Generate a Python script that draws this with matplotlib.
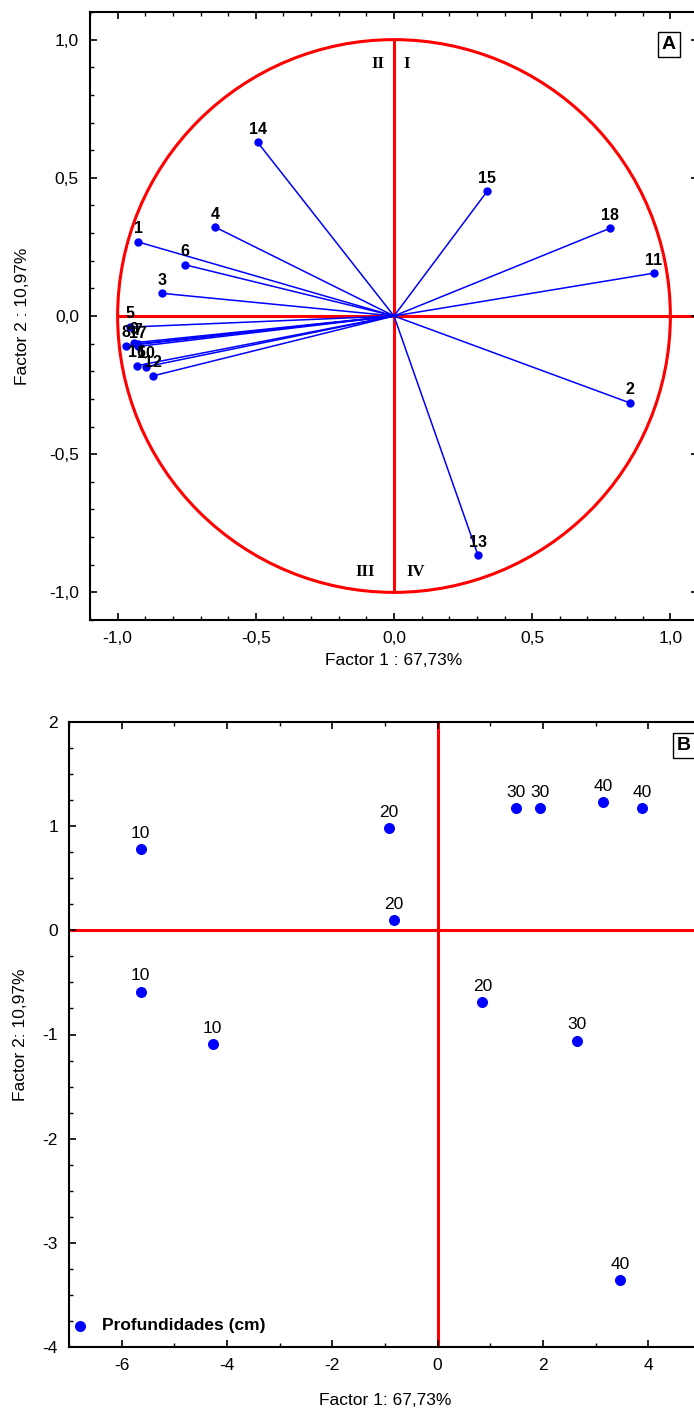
import matplotlib
matplotlib.use('Agg')
import matplotlib.pyplot as plt
from matplotlib.patches import Circle
from matplotlib.ticker import MultipleLocator, FuncFormatter

plt.rcParams['font.family'] = ['Liberation Sans', 'DejaVu Sans']
plt.rcParams['axes.unicode_minus'] = False

# panel A: loadings of the 18 variables
var_labels = ['1', '2', '3', '4', '5', '6', '7', '8', '9', '10',
              '11', '12', '13', '14', '15', '16', '17', '18']
load_f1 = [-0.926, 0.855, -0.839, -0.646, -0.955, -0.755, -0.928, -0.969, -0.942, -0.899,
           0.940, -0.873, 0.304, -0.493, 0.337, -0.931, -0.925, 0.783]
load_f2 = [0.268, -0.315, 0.082, 0.321, -0.040, 0.185, -0.101, -0.108, -0.097, -0.184,
           0.155, -0.217, -0.866, 0.628, 0.451, -0.180, -0.110, 0.318]

# panel B: sample scores, labelled by depth
depth_labels = ['10', '10', '10', '20', '20', '20', '30', '30', '30', '40', '40', '40']
score_f1 = [-5.64, -5.64, -4.27, -0.93, -0.83, 0.85, 1.49, 1.95, 2.64, 3.14, 3.88, 3.47]
score_f2 = [0.78, -0.59, -1.09, 0.98, 0.10, -0.69, 1.17, 1.17, -1.06, 1.23, 1.17, -3.36]

fig = plt.figure(figsize=(6.94, 14.14), dpi=100)

############## A. circle of correlations
ax = fig.add_axes([90/694, 1-620/1414, 608/694, 608/1414])
ax.set_xlim(-1.1, 1.1)
ax.set_ylim(-1.1, 1.1)
ax.add_patch(Circle((0, 0), 1, fill=False, color='red', lw=2.2, zorder=1))
ax.plot([-1, 1.1], [0, 0], color='red', lw=2.2, zorder=1)
ax.plot([0, 0], [-1, 1], color='red', lw=2.2, zorder=1)
for lab, x, y in zip(var_labels, load_f1, load_f2):
    ax.plot([0, x], [0, y], color='blue', lw=1.1, zorder=2)
    ax.plot(x, y, 'o', color='blue', ms=5, zorder=3)
    ax.annotate(lab, (x, y), xytext=(0, 4), textcoords='offset points',
                ha='center', va='bottom', fontsize=11.5, fontweight='bold', zorder=4)
for q, x, y in [('II', -0.058, 0.913), ('I', 0.047, 0.913),
                ('III', -0.105, -0.928), ('IV', 0.08, -0.928)]:
    ax.text(x, y, q, ha='center', va='center', fontsize=12, fontweight='bold',
            family=['Liberation Serif', 'DejaVu Serif'])
ax.text(0.952, 0.946, 'A', transform=ax.transAxes, ha='center', va='center',
        fontsize=14, fontweight='bold',
        bbox=dict(boxstyle='square,pad=0.2', fc='white', ec='black', lw=1))
ax.xaxis.set_major_locator(MultipleLocator(0.5))
ax.xaxis.set_minor_locator(MultipleLocator(0.1))
ax.yaxis.set_major_locator(MultipleLocator(0.5))
ax.yaxis.set_minor_locator(MultipleLocator(0.1))
comma = FuncFormatter(lambda v, p: ('%.1f' % v).replace('.', ','))
ax.xaxis.set_major_formatter(comma)
ax.yaxis.set_major_formatter(comma)
ax.tick_params(which='both', direction='in', top=True, right=True, labelsize=12.5, pad=8)
ax.tick_params(which='major', length=5, width=1.2)
ax.tick_params(which='minor', length=3, width=1)
for s in ax.spines.values():
    s.set_linewidth(1.5)
ax.set_xlabel('Factor 1 : 67,73%', fontsize=12.5, labelpad=5)
ax.set_ylabel('Factor 2 : 10,97%', fontsize=12.5, labelpad=14)

############## B. scores
bx = fig.add_axes([69/694, 1-1347/1414, 632/694, 625/1414])
bx.set_xlim(-7, 5)
bx.set_ylim(-4, 2)
bx.axhline(0, color='red', lw=2.2, zorder=1)
bx.axvline(0, color='red', lw=2.2, zorder=1)
bx.scatter(score_f1, score_f2, s=48, color='blue', zorder=3, label='Profundidades (cm)')
for lab, x, y in zip(depth_labels, score_f1, score_f2):
    bx.annotate(lab, (x, y), xytext=(0, 6), textcoords='offset points',
                ha='center', va='bottom', fontsize=12.5, zorder=4)
bx.text(0.973, 0.963, 'B', transform=bx.transAxes, ha='center', va='center',
        fontsize=14, fontweight='bold',
        bbox=dict(boxstyle='square,pad=0.2', fc='white', ec='black', lw=1))
bx.legend(loc='lower left', bbox_to_anchor=(0.003, 0.022), frameon=False,
          handletextpad=0.8, handlelength=1.0, borderaxespad=0, borderpad=0,
          prop={'weight': 'bold', 'size': 12.5})
bx.xaxis.set_major_locator(MultipleLocator(2))
bx.xaxis.set_minor_locator(MultipleLocator(1))
bx.yaxis.set_major_locator(MultipleLocator(1))
bx.yaxis.set_minor_locator(MultipleLocator(0.25))
bx.tick_params(which='both', direction='in', top=True, right=True, labelsize=12.5, pad=8)
bx.tick_params(which='major', length=5, width=1.2)
bx.tick_params(which='minor', length=3, width=1)
for s in bx.spines.values():
    s.set_linewidth(1.5)
bx.set_xlabel('Factor 1: 67,73%', fontsize=12.5, labelpad=14)
bx.set_ylabel('Factor 2: 10,97%', fontsize=12.5, labelpad=10)

fig.savefig('out.png', dpi=100)
